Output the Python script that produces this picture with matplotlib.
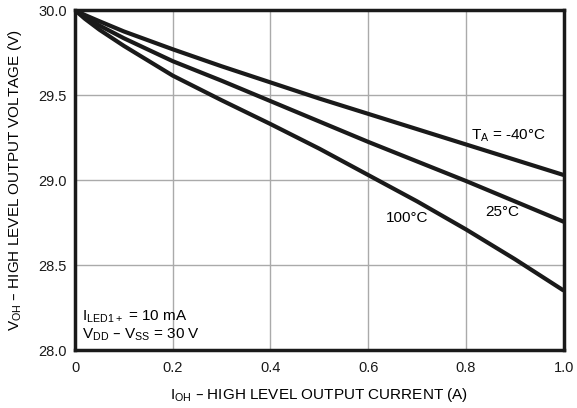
import numpy as np
import matplotlib
matplotlib.use("Agg")
import matplotlib.pyplot as plt

plt.rcParams["font.family"] = ["Liberation Sans", "DejaVu Sans"]
plt.rcParams["mathtext.default"] = "regular"

# output current (A) and high-level output voltage (V) per temperature
i_oh = [0.0, 0.02, 0.05, 0.1, 0.2, 0.3, 0.4, 0.5, 0.6, 0.7, 0.8, 0.9, 1.0]
v_m40 = [30.0, 29.972, 29.935, 29.875, 29.77, 29.67, 29.575, 29.48, 29.39,
         29.30, 29.21, 29.12, 29.03]
v_25 = [30.0, 29.96, 29.91, 29.835, 29.70, 29.585, 29.465, 29.345, 29.225,
        29.11, 28.995, 28.875, 28.755]
v_100 = [30.0, 29.95, 29.885, 29.79, 29.615, 29.47, 29.33, 29.185, 29.03,
         28.875, 28.71, 28.535, 28.35]

xticks = [0, 0.2, 0.4, 0.6, 0.8, 1.0]
xtick_labels = ["0", "0.2", "0.4", "0.6", "0.8", "1.0"]
yticks = [28.0, 28.5, 29.0, 29.5, 30.0]

fig = plt.figure(figsize=(5.77, 4.08), dpi=100)
ax = fig.add_axes([0.130, 0.142, 0.847, 0.833])

for v in (v_m40, v_25, v_100):
    ax.plot(i_oh, v, color="#1a1a1a", lw=3.0, solid_capstyle="butt",
            solid_joinstyle="round", zorder=3)

ax.set_xlim(0, 1.0)
ax.set_ylim(28.0, 30.0)
ax.set_xticks(xticks)
ax.set_xticklabels(xtick_labels)
ax.set_yticks(yticks)
ax.set_yticklabels([f"{t:.1f}" for t in yticks])
ax.grid(True, color="#aaaaaa", lw=1.0)
ax.set_axisbelow(True)
ax.tick_params(length=0, labelsize=10.5, colors="#1a1a1a")
ax.tick_params(axis="x", pad=8)
ax.tick_params(axis="y", pad=6)
for s in ax.spines.values():
    s.set_linewidth(2.5)
    s.set_color("#1a1a1a")

ax.set_xlabel("I$_{OH}$ – HIGH LEVEL OUTPUT CURRENT (A)", fontsize=11, labelpad=8)
ax.set_ylabel("V$_{OH}$ – HIGH LEVEL OUTPUT VOLTAGE (V)", fontsize=11, labelpad=10)

ax.text(0.81, 29.26, "T$_A$ = -40°C", fontsize=11, ha="left", va="center")
ax.text(0.875, 28.81, "25°C", fontsize=11, ha="center", va="center")
ax.text(0.679, 28.775, "100°C", fontsize=11, ha="center", va="center")
ax.text(0.015, 28.195, "I$_{LED1+}$ = 10 mA", fontsize=11, ha="left", va="center")
ax.text(0.015, 28.09, "V$_{DD}$ – V$_{SS}$ = 30 V", fontsize=11, ha="left", va="center")

fig.savefig("out.png", dpi=100)
